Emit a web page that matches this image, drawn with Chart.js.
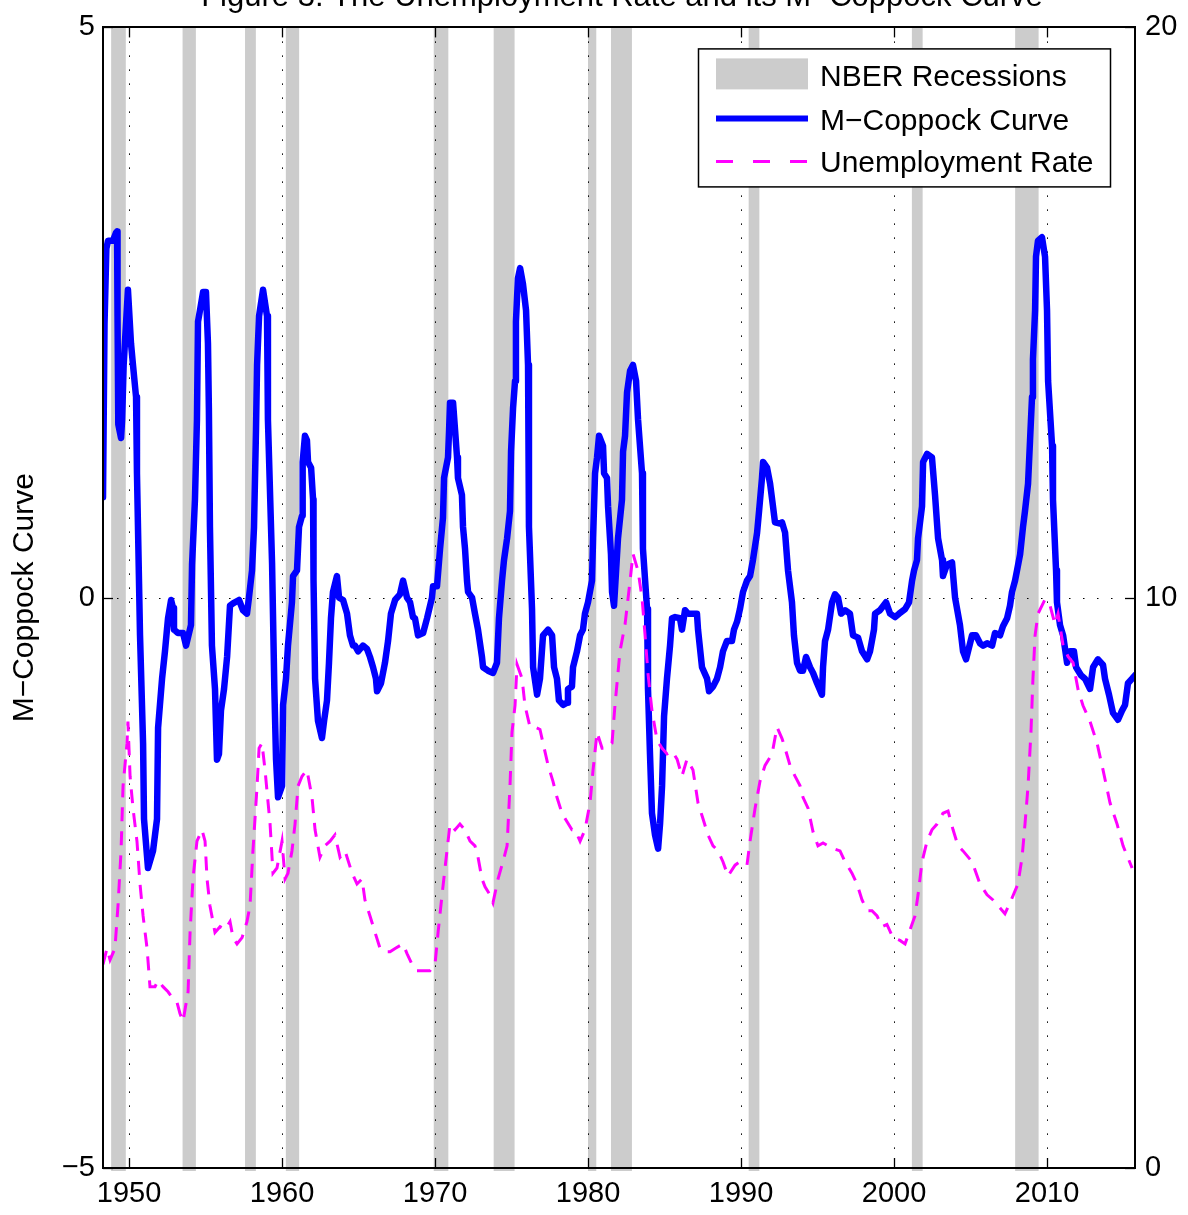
<!DOCTYPE html>
<html>
<head>
<meta charset="utf-8">
<script src="https://cdn.jsdelivr.net/npm/chart.js@4/dist/chart.umd.min.js"></script>
<style>
  html, body { margin: 0; padding: 0; background: #fff; }
  #wrap { width: 1188px; height: 1215px; }
</style>
</head>
<body>
<div id="wrap"><canvas id="c" width="1188" height="1215"></canvas></div>
<script>
// ---------------- DATA ----------------
const chartTitle = 'Figure 3: The Unemployment Rate and its M\u2212Coppock Curve';
const yAxisTitle = 'M\u2212Coppock Curve';
const seriesNames = ['NBER Recessions', 'M\u2212Coppock Curve', 'Unemployment Rate'];

const xMin = 1948.3, xMax = 2015.75;
const xTicks = [1950, 1960, 1970, 1980, 1990, 2000, 2010];
const leftTicks = [-5, 0, 5];
const rightTicks = [0, 10, 20];

// NBER recessions (decimal years)
const recessionStart = [1948.833, 1953.5, 1957.583, 1960.25, 1969.917, 1973.833, 1980.0, 1981.5, 1990.5, 2001.167, 2007.917];
const recessionEnd   = [1949.79, 1954.37, 1958.29, 1961.12, 1970.87, 1975.2, 1980.54, 1982.87, 1991.2, 2001.87, 2009.45];

// M-Coppock curve
const coppockYears = [
  1948.30,1948.40,1948.52,1948.63,1948.95,1949.15,1949.22,1949.25,1949.30,1949.48,1949.55,1949.65,1949.93,
  1950.13,1950.26,1950.46,1950.52,1950.72,1950.92,1950.98,1951.24,1951.57,1951.83,1951.90,1952.16,1952.35,
  1952.48,1952.55,1952.75,1952.88,1952.94,1953.20,1953.53,1953.73,1954.05,1954.12,1954.31,1954.44,1954.51,
  1954.64,1954.84,1955.03,1955.16,1955.22,1955.29,1955.42,1955.62,1955.75,1955.88,1956.01,1956.21,1956.41,
  1956.60,1956.80,1957.19,1957.45,1957.71,1957.84,1958.04,1958.17,1958.30,1958.37,1958.50,1958.76,1959.02,
  1959.08,1959.35,1959.50,1959.61,1959.74,1960.00,1960.07,1960.26,1960.39,1960.65,1960.72,1960.98,1961.11,
  1961.31,1961.33,1961.37,1961.50,1961.63,1961.70,1961.90,1962.03,1962.06,1962.16,1962.35,1962.61,1962.75,
  1962.94,1963.07,1963.20,1963.33,1963.59,1963.73,1963.99,1964.25,1964.44,1964.64,1964.77,1964.97,1965.29,
  1965.56,1965.75,1965.95,1966.14,1966.21,1966.47,1966.73,1966.93,1967.12,1967.39,1967.71,1967.91,1968.17,
  1968.37,1968.56,1968.69,1968.89,1969.22,1969.48,1969.80,1969.87,1970.13,1970.33,1970.52,1970.59,1970.85,
  1970.92,1970.98,1971.18,1971.31,1971.44,1971.50,1971.76,1971.83,1971.96,1972.09,1972.16,1972.42,1972.61,
  1972.81,1973.07,1973.14,1973.46,1973.79,1974.05,1974.18,1974.38,1974.51,1974.71,1974.90,1974.97,1975.10,
  1975.23,1975.29,1975.42,1975.56,1975.75,1975.95,1976.08,1976.14,1976.34,1976.41,1976.67,1976.86,1977.06,
  1977.39,1977.65,1977.78,1977.97,1978.10,1978.37,1978.63,1978.69,1978.95,1979.02,1979.28,1979.48,1979.67,
  1979.80,1980.00,1980.26,1980.33,1980.46,1980.59,1980.72,1980.98,1981.05,1981.24,1981.31,1981.50,1981.57,
  1981.70,1981.96,1982.22,1982.29,1982.42,1982.55,1982.75,1982.94,1983.14,1983.27,1983.53,1983.59,1983.86,
  1983.92,1984.05,1984.18,1984.38,1984.58,1984.71,1984.84,1984.97,1985.16,1985.36,1985.49,1985.69,1986.01,
  1986.14,1986.34,1986.54,1987.12,1987.19,1987.45,1987.78,1987.91,1988.17,1988.43,1988.63,1988.82,1989.08,
  1989.41,1989.54,1989.74,1989.93,1990.13,1990.39,1990.59,1990.78,1991.05,1991.18,1991.37,1991.44,1991.70,
  1991.90,1992.09,1992.22,1992.55,1992.68,1992.88,1993.07,1993.33,1993.46,1993.66,1993.86,1994.05,1994.25,
  1994.51,1994.71,1994.97,1995.29,1995.36,1995.49,1995.69,1995.95,1996.14,1996.34,1996.54,1996.80,1997.12,
  1997.32,1997.65,1997.91,1998.24,1998.43,1998.69,1998.76,1999.08,1999.48,1999.74,2000.07,2000.33,2000.72,
  2000.98,2001.18,2001.31,2001.50,2001.57,2001.83,2001.90,2002.16,2002.48,2002.68,2002.88,2003.14,2003.20,
  2003.46,2003.79,2003.99,2004.31,2004.51,2004.71,2004.84,2005.10,2005.36,2005.62,2005.82,2006.08,2006.41,
  2006.60,2006.93,2007.12,2007.39,2007.58,2007.71,2007.91,2008.04,2008.24,2008.43,2008.56,2008.76,2008.89,
  2009.02,2009.08,2009.22,2009.28,2009.41,2009.67,2009.87,2010.00,2010.07,2010.33,2010.39,2010.59,2010.65,
  2010.85,2011.05,2011.31,2011.50,2011.76,2011.90,2012.22,2012.48,2012.81,2013.01,2013.33,2013.66,2013.79,
  2014.05,2014.31,2014.64,2014.90,2015.10,2015.29,2015.56,2015.75
];
const coppockValues = [
  0.88,2.40,3.06,3.13,3.13,3.20,3.21,2.47,1.52,1.40,1.56,2.04,2.70,
  2.23,2.04,1.76,1.09,-0.33,-1.28,-1.94,-2.37,-2.22,-1.94,-1.14,-0.71,-0.47,
  -0.28,-0.18,-0.02,-0.09,-0.28,-0.31,-0.31,-0.42,-0.24,0.29,0.86,1.56,2.42,
  2.52,2.68,2.68,2.23,1.66,0.62,-0.42,-0.80,-1.42,-1.37,-0.99,-0.80,-0.52,
  -0.07,-0.05,-0.02,-0.11,-0.14,0.00,0.24,0.62,1.47,2.04,2.47,2.70,2.47,
  1.56,0.30,-0.80,-1.42,-1.75,-1.65,-0.94,-0.71,-0.42,-0.04,0.19,0.24,0.62,
  0.72,1.05,1.19,1.42,1.38,1.19,1.14,0.86,0.15,-0.71,-1.08,-1.23,-1.08,
  -0.90,-0.57,-0.18,0.05,0.19,0.00,-0.02,-0.14,-0.33,-0.42,-0.42,-0.47,-0.42,
  -0.45,-0.52,-0.61,-0.71,-0.82,-0.75,-0.57,-0.38,-0.14,-0.02,0.03,0.15,0.00,
  -0.04,-0.17,-0.18,-0.33,-0.31,-0.18,0.00,0.10,0.10,0.43,0.70,1.05,1.23,
  1.47,1.71,1.71,1.47,1.23,1.05,0.90,0.62,0.43,0.15,0.05,0.00,-0.14,
  -0.28,-0.52,-0.61,-0.64,-0.66,-0.57,-0.18,0.15,0.33,0.52,0.76,1.28,1.66,
  1.90,2.42,2.80,2.89,2.75,2.52,2.04,0.62,-0.10,-0.61,-0.85,-0.71,-0.33,
  -0.28,-0.33,-0.61,-0.71,-0.90,-0.94,-0.92,-0.80,-0.78,-0.61,-0.47,-0.33,-0.28,
  -0.14,-0.04,0.15,0.52,1.09,1.23,1.42,1.33,1.09,1.05,0.80,0.38,0.05,
  -0.07,0.52,0.86,1.28,1.42,1.80,1.99,2.04,1.90,1.56,1.09,0.43,-0.10,
  -0.80,-1.37,-1.89,-2.08,-2.20,-1.98,-1.65,-1.04,-0.71,-0.42,-0.18,-0.17,-0.18,
  -0.28,-0.11,-0.14,-0.14,-0.28,-0.61,-0.71,-0.82,-0.78,-0.71,-0.61,-0.47,-0.38,
  -0.38,-0.28,-0.21,-0.10,0.05,0.15,0.19,0.33,0.57,0.76,1.05,1.19,1.14,
  1.00,0.80,0.66,0.65,0.66,0.57,0.24,-0.04,-0.33,-0.57,-0.64,-0.64,-0.52,
  -0.61,-0.66,-0.75,-0.85,-0.61,-0.38,-0.28,-0.04,0.03,0.00,-0.14,-0.11,-0.14,
  -0.33,-0.35,-0.47,-0.54,-0.47,-0.28,-0.14,-0.11,-0.04,-0.14,-0.17,-0.14,-0.10,
  -0.04,0.15,0.24,0.33,0.52,0.80,1.19,1.26,1.23,0.90,0.52,0.33,0.19,
  0.29,0.31,0.00,-0.24,-0.47,-0.54,-0.47,-0.33,-0.33,-0.40,-0.42,-0.40,-0.42,
  -0.31,-0.33,-0.25,-0.18,-0.07,0.05,0.15,0.24,0.38,0.62,0.76,1.00,1.38,
  1.76,2.09,2.52,2.99,3.13,3.16,2.99,2.52,1.90,1.33,0.86,0.24,-0.04,
  -0.24,-0.33,-0.57,-0.47,-0.47,-0.61,-0.68,-0.71,-0.80,-0.61,-0.54,-0.59,-0.71,
  -0.85,-1.01,-1.07,-0.99,-0.94,-0.75,-0.71,-0.68
];

// Unemployment rate (%)
const unrateYears = [
  1948.30,1948.56,1948.76,1949.08,1949.28,1949.48,1949.61,1949.87,1949.93,1950.07,1950.26,1950.52,1950.72,
  1950.92,1951.18,1951.37,1951.70,1951.90,1952.22,1952.55,1952.81,1953.14,1953.33,1953.53,1953.86,1953.99,
  1954.18,1954.44,1954.77,1954.97,1955.10,1955.29,1955.62,1955.95,1956.27,1956.60,1956.80,1957.06,1957.39,
  1957.71,1957.91,1958.10,1958.37,1958.50,1958.69,1958.89,1959.22,1959.41,1959.67,1960.00,1960.20,1960.39,
  1960.65,1960.85,1961.05,1961.31,1961.63,1961.96,1962.16,1962.48,1962.81,1963.14,1963.46,1963.79,1964.12,
  1964.58,1964.90,1965.23,1965.42,1965.75,1966.08,1966.41,1966.73,1967.06,1967.39,1967.91,1968.17,1968.50,
  1968.82,1969.22,1969.67,1970.00,1970.20,1970.46,1970.78,1970.98,1971.31,1971.63,1971.96,1972.29,1972.61,
  1972.81,1973.07,1973.27,1973.59,1973.79,1974.12,1974.44,1974.71,1974.90,1975.03,1975.23,1975.36,1975.69,
  1975.88,1976.21,1976.54,1976.86,1977.06,1977.39,1977.71,1977.97,1978.30,1978.63,1978.95,1979.15,1979.48,
  1979.80,1980.13,1980.33,1980.59,1980.92,1981.24,1981.57,1981.76,1982.09,1982.42,1982.75,1982.94,1983.27,
  1983.53,1983.73,1983.92,1984.18,1984.51,1984.84,1985.16,1985.49,1985.82,1986.14,1986.47,1986.86,1987.19,
  1987.52,1987.84,1988.17,1988.50,1988.82,1989.15,1989.61,1989.93,1990.39,1990.59,1990.92,1991.24,1991.57,
  1992.03,1992.35,1992.68,1992.88,1993.20,1993.53,1993.86,1994.05,1994.38,1994.71,1995.03,1995.36,1995.69,
  1996.14,1996.47,1996.80,1997.25,1997.58,1997.91,1998.24,1998.56,1998.89,1999.22,1999.54,1999.93,2000.39,
  2000.72,2001.05,2001.37,2001.57,2001.83,2002.16,2002.48,2002.81,2003.20,2003.53,2003.86,2004.18,2004.51,
  2005.10,2005.62,2006.08,2006.47,2006.93,2007.25,2007.58,2008.10,2008.37,2008.56,2008.76,2008.95,2009.08,
  2009.22,2009.41,2009.67,2009.87,2010.20,2010.52,2010.72,2011.05,2011.37,2011.70,2012.03,2012.35,2012.81,
  2013.27,2013.66,2014.12,2014.58,2014.97,2015.56
];
const unrateValues = [
  3.57,3.85,3.65,3.85,4.60,5.56,6.70,7.45,7.83,6.87,6.31,5.73,4.98,
  4.42,3.85,3.18,3.18,3.29,3.18,3.09,2.99,2.90,2.71,2.57,3.09,4.13,
  5.07,5.73,5.93,5.73,5.07,4.60,4.13,4.23,4.18,4.32,4.04,3.93,4.04,
  4.32,4.60,5.56,6.70,7.36,7.45,6.98,6.03,5.17,5.26,5.73,5.07,5.17,
  5.56,6.03,6.70,6.87,6.98,6.50,5.93,5.45,5.65,5.73,5.84,5.45,5.56,
  5.17,4.98,5.07,4.70,4.42,4.13,3.85,3.79,3.79,3.85,3.93,3.76,3.57,
  3.46,3.46,3.46,3.57,4.13,4.79,5.56,6.03,5.93,6.03,5.93,5.73,5.65,
  5.45,5.07,4.93,4.79,4.65,5.07,5.37,5.65,6.70,7.64,8.11,8.83,8.58,
  8.11,7.73,7.73,7.69,7.45,7.06,6.78,6.50,6.22,6.07,5.93,5.93,5.73,
  5.93,6.40,6.98,7.64,7.36,7.36,7.45,8.11,9.06,9.53,10.30,10.77,10.47,
  10.00,9.34,8.67,8.02,7.50,7.36,7.26,7.31,7.17,6.87,7.17,6.98,6.40,
  6.12,5.84,5.65,5.56,5.37,5.12,5.31,5.37,5.31,5.73,6.31,6.78,7.06,
  7.26,7.73,7.53,7.36,7.06,6.87,6.70,6.50,6.31,5.89,5.65,5.70,5.65,
  5.59,5.56,5.37,5.17,4.98,4.70,4.51,4.51,4.42,4.23,4.27,4.04,3.99,
  3.93,4.18,4.42,4.79,5.37,5.73,5.93,6.03,6.22,6.26,5.93,5.65,5.56,
  5.37,4.98,4.79,4.70,4.56,4.46,4.65,4.98,5.45,6.03,6.70,7.64,8.58,
  9.34,9.72,9.86,9.97,9.86,9.53,9.72,9.16,8.97,8.86,8.39,8.11,7.83,
  7.45,6.98,6.40,6.03,5.65,5.26
];

// ---------------- STYLE ----------------
const FONT = '"Liberation Sans", Arial, Helvetica, sans-serif';
const TICK_SIZE = 29;
const LABEL_SIZE = 30;
const BAND_COLOR = '#cccccc';
const BLUE = '#0000ff';
const MAGENTA = '#ff00ff';

const toPts = (xs, ys) => xs.map((x, i) => ({ x: x, y: ys[i] }));
const fmt = v => (v < 0 ? '\u2212' + Math.abs(v) : String(v));

const bandsAndGrid = {
  id: 'bandsAndGrid',
  beforeDatasetsDraw(chart) {
    const { ctx, chartArea: a, scales } = chart;
    const xs = scales.x, y = scales.y;
    ctx.save();
    ctx.fillStyle = BAND_COLOR;
    for (let i = 0; i < recessionStart.length; i++) {
      const x0 = xs.getPixelForValue(recessionStart[i]);
      const x1 = xs.getPixelForValue(recessionEnd[i]);
      ctx.fillRect(x0, a.top, x1 - x0, a.bottom - a.top + 3);
    }
    ctx.strokeStyle = '#000';
    ctx.lineWidth = 1;
    ctx.setLineDash([1.5, 12.5]);
    xTicks.forEach(t => {
      const px = Math.round(xs.getPixelForValue(t)) + 0.5;
      ctx.beginPath(); ctx.moveTo(px, a.top); ctx.lineTo(px, a.bottom); ctx.stroke();
    });
    leftTicks.forEach(t => {
      if (t === y.min || t === y.max) return;
      const py = Math.round(y.getPixelForValue(t)) + 0.5;
      ctx.beginPath(); ctx.moveTo(a.left, py); ctx.lineTo(a.right, py); ctx.stroke();
    });
    ctx.restore();
  }
};

const frame = {
  id: 'frame',
  afterDatasetsDraw(chart) {
    const { ctx, chartArea: a, scales } = chart;
    ctx.save();
    ctx.strokeStyle = '#000';
    ctx.lineWidth = 1.3;
    const tl = 10;
    xTicks.forEach(t => {
      const px = Math.round(scales.x.getPixelForValue(t)) + 0.5;
      ctx.beginPath(); ctx.moveTo(px, a.bottom); ctx.lineTo(px, a.bottom - tl); ctx.stroke();
      ctx.beginPath(); ctx.moveTo(px, a.top); ctx.lineTo(px, a.top + tl); ctx.stroke();
    });
    leftTicks.forEach(t => {
      const py = Math.round(scales.y.getPixelForValue(t)) + 0.5;
      ctx.beginPath(); ctx.moveTo(a.left, py); ctx.lineTo(a.left + tl, py); ctx.stroke();
    });
    rightTicks.forEach(t => {
      const py = Math.round(scales.y2.getPixelForValue(t)) + 0.5;
      ctx.beginPath(); ctx.moveTo(a.right, py); ctx.lineTo(a.right - tl, py); ctx.stroke();
    });
    ctx.lineWidth = 2;
    ctx.strokeRect(Math.round(a.left), Math.round(a.top), Math.round(a.right - a.left), Math.round(a.bottom - a.top));
    ctx.restore();
  }
};

const legendAndTitle = {
  id: 'legendAndTitle',
  afterDraw(chart) {
    const { ctx, chartArea: a } = chart;
    ctx.save();
    // title (partly cut at the top, as in the original)
    ctx.fillStyle = '#000';
    ctx.font = '31px ' + FONT;
    ctx.textAlign = 'center';
    ctx.textBaseline = 'alphabetic';
    ctx.fillText(chartTitle, (a.left + a.right) / 2 + 3, 6);

    // legend box
    const bx = a.right - 437, by = a.top + 21, bw = 412, bh = 138;
    ctx.fillStyle = '#fff';
    ctx.fillRect(bx, by, bw, bh);
    ctx.strokeStyle = '#000';
    ctx.lineWidth = 1.5;
    ctx.strokeRect(bx + 0.5, by + 0.5, bw, bh);
    const sx0 = bx + 18, sx1 = bx + 110;
    ctx.fillStyle = BAND_COLOR;
    ctx.fillRect(sx0, by + 10, sx1 - sx0, 31);
    ctx.strokeStyle = BLUE;
    ctx.lineWidth = 6;
    ctx.beginPath(); ctx.moveTo(sx0, by + 70); ctx.lineTo(sx1, by + 70); ctx.stroke();
    ctx.strokeStyle = MAGENTA;
    ctx.lineWidth = 3;
    ctx.setLineDash([17, 20]);
    ctx.beginPath(); ctx.moveTo(sx0, by + 113); ctx.lineTo(sx1, by + 113); ctx.stroke();
    ctx.setLineDash([]);
    ctx.fillStyle = '#000';
    ctx.font = LABEL_SIZE + 'px ' + FONT;
    ctx.textAlign = 'left';
    ctx.fillText(seriesNames[0], bx + 122, by + 38);
    ctx.fillText(seriesNames[1], bx + 122, by + 82);
    ctx.fillText(seriesNames[2], bx + 122, by + 124);
    ctx.restore();
  }
};

new Chart(document.getElementById('c'), {
  type: 'line',
  data: {
    datasets: [
      {
        label: seriesNames[2],
        data: toPts(unrateYears, unrateValues),
        yAxisID: 'y2',
        borderColor: MAGENTA,
        borderWidth: 3,
        borderDash: [14, 10],
        pointRadius: 0,
        tension: 0,
        fill: false
      },
      {
        label: seriesNames[1],
        data: toPts(coppockYears, coppockValues),
        yAxisID: 'y',
        borderColor: BLUE,
        borderWidth: 6.5,
        borderJoinStyle: 'round',
        borderCapStyle: 'round',
        pointRadius: 0,
        tension: 0,
        fill: false
      }
    ]
  },
  options: {
    responsive: false,
    animation: false,
    devicePixelRatio: 1,
    layout: { padding: { top: 24, left: 0, right: 0, bottom: 0 } },
    plugins: { legend: { display: false }, tooltip: { enabled: false }, title: { display: false } },
    scales: {
      x: {
        type: 'linear', position: 'bottom', min: xMin, max: xMax,
        afterBuildTicks: s => { s.ticks = xTicks.map(v => ({ value: v })); },
        afterFit: s => { s.height = 47; },
        grid: { display: false, drawTicks: false },
        border: { display: false },
        ticks: { color: '#000', font: { family: FONT, size: TICK_SIZE }, padding: 9, maxRotation: 0, autoSkip: false, callback: v => String(v) }
      },
      y: {
        type: 'linear', position: 'left', min: -5, max: 5,
        afterBuildTicks: s => { s.ticks = leftTicks.map(v => ({ value: v })); },
        afterFit: s => { s.width = 103; },
        grid: { display: false, drawTicks: false },
        border: { display: false },
        title: { display: true, text: yAxisTitle, color: '#000', font: { family: FONT, size: LABEL_SIZE }, padding: { top: 7, bottom: 0 } },
        ticks: { color: '#000', font: { family: FONT, size: TICK_SIZE }, padding: 8, autoSkip: false, callback: v => fmt(v) }
      },
      y2: {
        type: 'linear', position: 'right', min: 0, max: 20,
        afterBuildTicks: s => { s.ticks = rightTicks.map(v => ({ value: v })); },
        afterFit: s => { s.width = 53; },
        grid: { display: false, drawTicks: false },
        border: { display: false },
        ticks: { color: '#000', font: { family: FONT, size: TICK_SIZE }, padding: 10, autoSkip: false, callback: v => fmt(v) }
      }
    }
  },
  plugins: [bandsAndGrid, frame, legendAndTitle]
});
</script>
</body>
</html>
